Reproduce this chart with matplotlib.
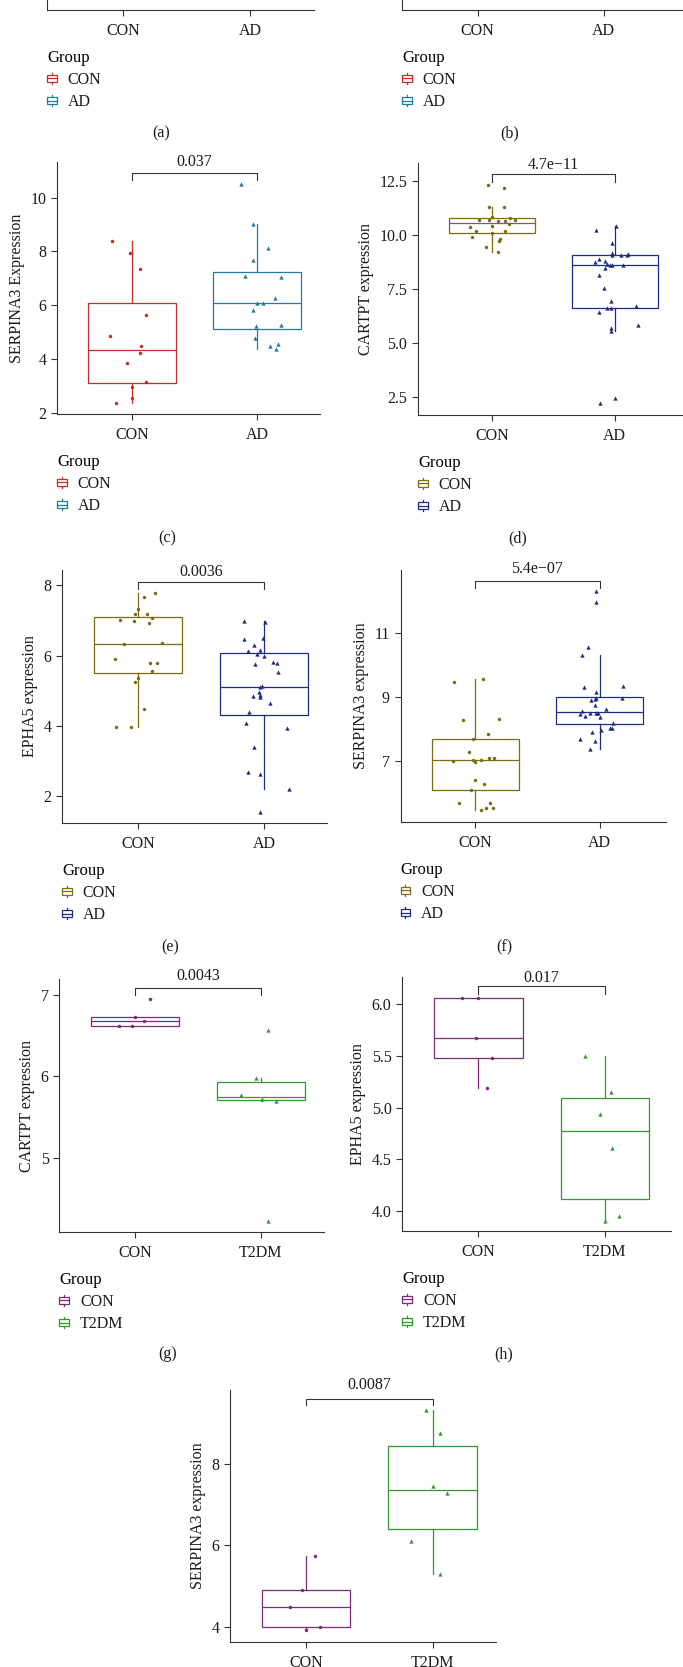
import numpy as np
import matplotlib
matplotlib.use("Agg")
import matplotlib.pyplot as plt
from matplotlib.patches import Rectangle, Patch
from matplotlib.lines import Line2D
from matplotlib.legend_handler import HandlerBase

plt.rcParams['font.family'] = ['Liberation Serif', 'DejaVu Serif']

# ---- data ----
groups_ad = ['CON', 'AD']
groups_t2 = ['CON', 'T2DM']

# (c) SERPINA3
c_con = [8.37, 7.95, 7.36, 5.64, 4.85, 4.46, 4.20, 3.85, 3.15, 2.94, 2.53, 2.37]
c_con_jit = [-0.16, -0.02, 0.06, 0.11, -0.18, 0.07, 0.06, -0.04, 0.11, 0.00, 0.00, -0.13]
c_ad = [10.50, 9.00, 8.12, 7.67, 7.07, 7.06, 6.25, 6.09, 6.09, 5.81, 5.21, 5.26, 4.77, 4.47, 4.54, 4.35]
c_ad_jit = [-0.13, -0.03, 0.09, -0.03, -0.10, 0.19, 0.14, 0.00, 0.05, -0.03, -0.01, 0.19, -0.02, 0.10, 0.17, 0.15]

# (d) CARTPT
d_con = [12.30, 12.16, 11.30, 11.30, 10.83, 10.70, 10.67, 10.64, 10.78, 10.66, 10.61,
         10.49, 10.41, 10.36, 10.15, 10.15, 10.06, 9.87, 9.80, 9.72, 9.44, 9.20]
d_con_jit = [-0.03, 0.10, -0.02, 0.10, 0.00, -0.10, -0.02, 0.05, 0.15, 0.19, 0.11,
             0.14, 0.00, -0.18, -0.13, 0.11, 0.00, -0.16, 0.07, 0.06, -0.05, 0.05]
d_ad = [10.41, 10.21, 9.61, 9.14, 9.04, 9.04, 9.04, 9.09, 8.89, 8.72, 8.78, 8.66, 8.61, 8.58,
        8.61, 8.44, 8.14, 7.55, 6.92, 6.63, 6.63, 6.71, 6.42, 5.83, 5.68, 5.57, 2.21, 2.44]
d_ad_jit = [0.01, -0.15, -0.02, -0.02, -0.02, 0.05, 0.10, 0.11, -0.13, -0.16, -0.08, -0.06, -0.04, -0.02,
            0.07, -0.08, -0.13, -0.09, -0.03, -0.06, -0.03, 0.17, -0.13, 0.19, -0.03, -0.03, -0.12, 0.00]

# (e) EPHA5
e_con = [7.79, 7.67, 7.34, 7.18, 7.18, 7.02, 7.00, 7.07, 6.92, 6.32, 6.37, 5.91, 5.80, 5.80,
         5.57, 5.38, 5.24, 4.49, 3.97, 3.97]
e_con_jit = [0.14, 0.05, 0.00, -0.02, 0.07, -0.14, -0.03, 0.11, 0.09, -0.11, 0.19, -0.18, 0.10, 0.15,
             0.11, 0.00, -0.02, 0.05, -0.17, -0.05]
e_ad = [6.99, 6.95, 6.48, 6.51, 6.31, 6.13, 6.15, 6.05, 6.00, 5.83, 5.79, 5.77, 5.55, 5.14,
        5.10, 4.96, 4.89, 4.82, 4.84, 4.65, 4.40, 4.10, 3.93, 3.40, 2.70, 2.63, 2.20, 1.56]
e_ad_jit = [-0.16, 0.01, -0.16, -0.01, -0.08, -0.13, -0.03, -0.06, 0.00, 0.07, 0.10, -0.07, 0.11, -0.02,
            -0.03, -0.04, -0.03, -0.03, -0.09, 0.05, -0.12, -0.14, 0.18, -0.08, -0.13, -0.03, 0.20, -0.03]

# (f) SERPINA3
f_con = [9.46, 9.57, 8.28, 8.31, 7.85, 7.70, 7.29, 7.00, 7.05, 6.99, 7.04, 7.12, 7.12, 6.41,
         6.30, 6.12, 5.72, 5.71, 5.56, 5.55, 5.48]
f_con_jit = [-0.17, 0.06, -0.10, 0.19, 0.10, -0.02, -0.05, -0.18, -0.02, 0.00, 0.05, 0.11, 0.15, 0.00,
             0.07, -0.03, -0.13, 0.12, 0.09, 0.14, 0.05]
f_ad = [12.28, 11.96, 10.56, 10.29, 9.30, 9.34, 9.14, 8.97, 8.93, 8.96, 8.90, 8.75, 8.64, 8.57,
        8.48, 8.51, 8.51, 8.51, 8.40, 8.37, 8.19, 8.05, 8.05, 7.96, 7.90, 7.70, 7.64, 7.40]
f_ad_jit = [-0.03, -0.03, -0.09, -0.14, -0.13, 0.19, -0.03, -0.03, -0.04, 0.18, -0.07, -0.04, 0.05, -0.14,
            -0.16, -0.08, -0.03, -0.01, -0.12, 0.00, 0.11, 0.08, 0.10, 0.01, -0.06, -0.16, -0.04, -0.08]

# (g) CARTPT, T2DM
g_con = [6.95, 6.73, 6.67, 6.61, 6.62]
g_con_jit = [0.12, 0.00, 0.07, -0.13, -0.02]
g_t2 = [6.57, 5.98, 5.77, 5.72, 5.70, 4.22]
g_t2_jit = [0.06, -0.04, -0.16, 0.01, 0.12, 0.06]

# (h) EPHA5, T2DM
h_con = [6.06, 6.06, 5.67, 5.48, 5.19]
h_con_jit = [-0.13, 0.00, -0.02, 0.11, 0.07]
h_t2 = [5.50, 5.15, 4.94, 4.61, 3.95, 3.91]
h_t2_jit = [-0.16, 0.05, -0.04, 0.06, 0.11, 0.00]

# (i) SERPINA3, T2DM
i_con = [5.73, 4.90, 4.49, 3.99, 3.91]
i_con_jit = [0.07, -0.03, -0.13, 0.11, 0.00]
i_t2 = [9.33, 8.75, 7.45, 7.28, 6.10, 5.28]
i_t2_jit = [-0.05, 0.06, 0.00, 0.11, -0.17, 0.06]

# ---- styling ----
RED, TEAL = '#C0302B', '#1F7C9C'
OLIVE, NAVY = '#7C6D14', '#1E2C82'
PURPLE, GREEN = '#7F2A78', '#2F9B2C'
AXC = '#333333'
TXT = '#1a1a1a'
FS = 11.5
LW = 0.9

W, H = 683, 1667
fig = plt.figure(figsize=(W / 100, H / 100), dpi=100)


class BoxHandler(HandlerBase):
    def create_artists(self, legend, orig_handle, xdescent, ydescent,
                       width, height, fontsize, trans):
        c = orig_handle.get_edgecolor()
        x0, y0 = -xdescent, -ydescent
        bh = height * 0.6
        by = y0 + (height - bh) / 2
        whisk = Line2D([x0 + width / 2] * 2, [y0, y0 + height], color=c, lw=LW, transform=trans)
        rect = Rectangle((x0, by), width, bh, facecolor='white', edgecolor=c, lw=LW, transform=trans)
        med = Line2D([x0, x0 + width], [by + bh / 2] * 2, color=c, lw=LW, transform=trans)
        return [whisk, rect, med]


def panel(left, top, bottom, spacing, xr=1.5):
    width = spacing * (xr + 0.6)
    ax = fig.add_axes([left / W, 1 - bottom / H, width / W, (bottom - top) / H])
    for s in ('top', 'right'):
        ax.spines[s].set_visible(False)
    for s in ('left', 'bottom'):
        ax.spines[s].set_color(AXC)
        ax.spines[s].set_linewidth(0.8)
    ax.tick_params(direction='out', length=4.2, width=0.8, color=AXC,
                   labelsize=FS, labelcolor=TXT, pad=3.5)
    ax.tick_params(axis='x', pad=5)
    ax.xlim_right = xr
    return ax


def boxes(ax, groups, vals, jits, colors, ylim, yticks, yfmt, ylabel, bracket, ptext):
    bp = ax.boxplot(vals, positions=[0, 1], widths=0.7, showfliers=False,
                    showcaps=False, patch_artist=True, zorder=2)
    for i, c in enumerate(colors):
        bp['boxes'][i].set(facecolor='white', edgecolor=c, linewidth=LW)
        bp['medians'][i].set(color=c, linewidth=LW)
        for w in bp['whiskers'][2 * i:2 * i + 2]:
            w.set(color=c, linewidth=LW)
    markers = ['o', '^']
    sizes = [2.5, 3.1]
    for i, (v, j) in enumerate(zip(vals, jits)):
        ax.plot(np.array(j) + i, v, ls='none', marker=markers[i], ms=sizes[i],
                color=colors[i], mew=0, zorder=3)
    ax.set_xlim(-0.6, ax.xlim_right)
    ax.set_ylim(*ylim)
    ax.set_xticks([0, 1], groups)
    ax.set_yticks(yticks, [yfmt.format(t) for t in yticks])
    ax.set_ylabel(ylabel, fontsize=FS, color=TXT, labelpad=4)
    top, tip, ty = bracket
    ax.plot([0, 0, 1, 1], [tip, top, top, tip], color=AXC, lw=0.8, clip_on=False)
    ax.text(0.5, ty, ptext, ha='center', va='center', fontsize=FS, color=TXT)


def legend(ax, groups, colors, left, top):
    handles = [Patch(edgecolor=c, facecolor='white') for c in colors]
    ax.legend(handles, groups, title='Group', loc='upper left',
              bbox_to_anchor=(left / W, 1 - top / H), bbox_transform=fig.transFigure,
              frameon=False, borderpad=0, borderaxespad=0, handlelength=0.6,
              handleheight=0.7, handletextpad=0.7, labelspacing=0.38,
              fontsize=FS, title_fontsize=12, alignment='left',
              labelcolor=TXT, handler_map={Patch: BoxHandler()})


def tag(x, y, s):
    fig.text(x / W, 1 - y / H, s, ha='center', va='center', fontsize=FS, color=TXT)


# ---- (a), (b): only the bottom edge is inside the crop ----
for left, sp, xr, cols, tx, lab in [(47, 127, 1.5, (RED, TEAL), 161, '(a)'),
                                     (402, 126, 1.62, (RED, TEAL), 510, '(b)')]:
    ax = panel(left, -300, 10, sp, xr)
    ax.set_xlim(-0.6, xr)
    ax.set_ylim(0, 1)
    ax.set_yticks([])
    ax.set_xticks([0, 1], groups_ad)
    legend(ax, groups_ad, cols, left, 10 + 40)
    tag(tx, 10 + 123, lab)

# ---- (c) ----
ax = panel(57, 162, 414, 125)
boxes(ax, groups_ad, [c_con, c_ad], [c_con_jit, c_ad_jit], (RED, TEAL),
      (1.95, 11.32), [2, 4, 6, 8, 10], '{:g}', 'SERPINA3 Expression',
      (10.9, 10.65, 11.32), '0.037')
legend(ax, groups_ad, (RED, TEAL), 57, 414 + 40)
tag(167, 538, '(c)')

# ---- (d) ----
ax = panel(418, 163, 415, 123, 1.56)
boxes(ax, groups_ad, [d_con, d_ad], [d_con_jit, d_ad_jit], (OLIVE, NAVY),
      (1.67, 13.31), [2.5, 5.0, 7.5, 10.0, 12.5], '{:.1f}', 'CARTPT expression',
      (12.81, 12.45, 13.2), '4.7e\u221211')
legend(ax, groups_ad, (OLIVE, NAVY), 418, 415 + 40)
tag(518, 538, '(d)')

# ---- (e) ----
ax = panel(62, 570, 823, 126.3)
boxes(ax, groups_ad, [e_con, e_ad], [e_con_jit, e_ad_jit], (OLIVE, NAVY),
      (1.24, 8.44), [2, 4, 6, 8], '{:g}', 'EPHA5 expression',
      (8.095, 7.905, 8.39), '0.0036')
legend(ax, groups_ad, (OLIVE, NAVY), 62, 823 + 40)
tag(170, 947, '(e)')

# ---- (f) ----
ax = panel(400.5, 570, 822, 124.5, 1.53)
boxes(ax, groups_ad, [f_con, f_ad], [f_con_jit, f_ad_jit], (OLIVE, NAVY),
      (5.12, 12.94), [7, 9, 11], '{:g}', 'SERPINA3 expression',
      (12.61, 12.37, 12.97), '5.4e\u221207')
legend(ax, groups_ad, (OLIVE, NAVY), 400.5, 822 + 40)
tag(504, 947, '(f)')

# ---- (g) ----
ax = panel(59.3, 979, 1232, 126)
boxes(ax, groups_t2, [g_con, g_t2], [g_con_jit, g_t2_jit], (PURPLE, GREEN),
      (4.09, 7.19), [5, 6, 7], '{:g}', 'CARTPT expression',
      (7.08, 7.0, 7.23), '0.0043')
legend(ax, groups_t2, (PURPLE, GREEN), 59.3, 1232 + 40)
tag(168, 1354, '(g)')

# ---- (h) ----
ax = panel(402.3, 977, 1231, 126.6, 1.52)
boxes(ax, groups_t2, [h_con, h_t2], [h_con_jit, h_t2_jit], (PURPLE, GREEN),
      (3.81, 6.26), [4.0, 4.5, 5.0, 5.5, 6.0], '{:.1f}', 'EPHA5 expression',
      (6.17, 6.1, 6.25), '0.017')
legend(ax, groups_t2, (PURPLE, GREEN), 402.3, 1231 + 40)
tag(504, 1354, '(h)')

# ---- (i) ----
ax = panel(230.3, 1390, 1642, 126.5)
boxes(ax, groups_t2, [i_con, i_t2], [i_con_jit, i_t2_jit], (PURPLE, GREEN),
      (3.62, 9.81), [4, 6, 8], '{:g}', 'SERPINA3 expression',
      (9.6, 9.44, 9.93), '0.0087')

fig.savefig('out.png', dpi=100)
